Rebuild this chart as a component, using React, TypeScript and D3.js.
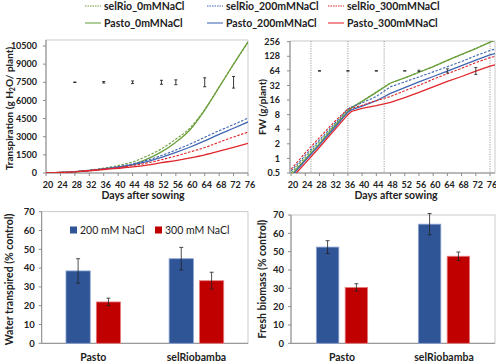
import React from 'react';
import * as d3 from 'd3';

// ---------- data ----------
const legendLabels = ['selRio_0mMNaCl', 'selRio_200mMNaCl', 'selRio_300mMNaCl', 'Pasto_0mMNaCl', 'Pasto_200mMNaCl', 'Pasto_300mMNaCl'];

const trDays = [20, 24, 28, 32, 36, 40, 44, 48, 52, 56, 60, 64, 68, 72, 76];
const trSel0 = [0, 50, 120, 240, 400, 620, 920, 1400, 2000, 2800, 3750, 5250, 7100, 9000, 10800];
const trSel200 = [0, 45, 110, 220, 360, 530, 760, 1050, 1450, 1900, 2400, 2950, 3500, 4000, 4550];
const trSel300 = [0, 45, 105, 200, 320, 450, 610, 820, 1100, 1400, 1750, 2100, 2550, 2980, 3380];
const trPasto0 = [0, 40, 100, 200, 330, 480, 700, 1150, 1750, 2550, 3600, 5200, 7100, 9000, 10850];
const trPasto200 = [0, 45, 110, 210, 340, 490, 690, 950, 1300, 1700, 2150, 2650, 3200, 3700, 4220];
const trPasto300 = [0, 40, 100, 185, 290, 390, 500, 650, 850, 1030, 1250, 1500, 1800, 2120, 2450];
const trTicksY = [0, 1500, 3000, 4500, 6000, 7500, 9000, 10500];
const dayTicks = [20, 24, 28, 32, 36, 40, 44, 48, 52, 56, 60, 64, 68, 72, 76];
const trErrDays = [28, 36, 44, 52, 56, 64, 72];
const trErrMid = 7500;
const trErrHalf = [20, 60, 110, 165, 200, 370, 480];

const fwDays = [20, 24, 28, 32, 36, 37, 40, 44, 48, 52, 56, 60, 64, 68, 72, 76, 77.4];
const fwSel0 = [0.5, 1.05, 2.2, 4.7, 10, 11.3, 15.2, 23.5, 36, 46, 60, 78, 105, 140, 185, 250, 275];
const fwSel200 = [0.55, 1.15, 2.4, 5.0, 10.5, 11.5, 14, 19, 30, 38, 48, 61, 78, 100, 132, 168, 180];
const fwSel300 = [0.6, 1.3, 2.7, 5.5, 10.5, 10.8, 12.5, 15.5, 19, 25, 32, 43, 56, 72, 95, 120, 128];
const fwPasto0 = [0.45, 0.95, 2.0, 4.4, 9.3, 11, 15, 23, 36, 46, 60, 78, 105, 140, 185, 250, 275];
const fwPasto200 = [0.42, 0.9, 1.9, 4.1, 9, 10, 12, 15.5, 22, 29, 38, 49, 63, 82, 107, 137, 146];
const fwPasto300 = [0.38, 0.8, 1.7, 3.7, 8, 9.3, 10.8, 12.3, 14.3, 18, 23, 30, 39, 49, 63, 80, 85];
const fwTicksY = [0.5, 1, 2, 4, 8, 16, 32, 64, 128, 256];
const fwMarkerDays = [25.6, 36, 46.2, 76];
const fwErrDays = [28, 36, 44, 52, 56, 64, 72];
const fwErrLo = [63, 63, 63, 63.3, 62, 58, 54];
const fwErrHi = [65, 65, 65, 64.7, 66, 70.5, 75];

const categories = ['Pasto', 'selRiobamba'];
const treatments = ['200 mM NaCl', '300 mM NaCl'];
const waterMean200 = [38.5, 45];
const waterErr200 = [6.5, 6];
const waterMean300 = [22, 33.3];
const waterErr300 = [2, 4.5];
const bioMean200 = [52.5, 65];
const bioErr200 = [3.5, 5.8];
const bioMean300 = [30.5, 47.5];
const bioErr300 = [2, 2.3];
const barTicksY = [0, 10, 20, 30, 40, 50, 60, 70];

// ---------- styles ----------
const FONT = 'Lato, "Open Sans", sans-serif';
const GREEN = '#6b9f3b';
const BLUE = '#3f66b3';
const RED = '#e0262b';
const BAR_BLUE = '#2f5597';
const BAR_RED = '#c00000';
const AXIS = '#8c8c8c';
const TXT = '#222';

type Series = { vals: number[]; color: string; dashed: boolean };

function LinePanel(props: {
  x: d3.ScaleLinear<number, number>;
  y: any;
  days: number[];
  series: Series[];
  clipId: string;
  smooth: boolean;
  left: number; right: number; top: number; bottom: number;
}) {
  const { x, y, days, series, clipId, smooth, left, right, top, bottom } = props;
  const gen = d3.line<number>().x((_, i) => x(days[i])).y((v) => y(v));
  if (smooth) gen.curve(d3.curveMonotoneX);
  return (
    <g>
      <clipPath id={clipId}>
        <rect x={left} y={top} width={right - left} height={bottom - top} />
      </clipPath>
      <g clipPath={`url(#${clipId})`}>
        {series.map((s, i) => (
          <path key={i} d={gen(s.vals) || ''} fill="none" stroke={s.color}
            strokeWidth={s.dashed ? 1.1 : 1.3}
            strokeDasharray={s.dashed ? '2.5,1.5' : undefined} />
        ))}
      </g>
    </g>
  );
}

export default function App() {
  // ---------- top-left: transpiration ----------
  const tl = { left: 46, right: 248, top: 40, bottom: 173 };
  const xT = d3.scaleLinear().domain([20, 76]).range([tl.left, tl.right]);
  const yT = d3.scaleLinear().domain([0, 10500]).range([tl.bottom, 46]);
  const trSeries: Series[] = [
    { vals: trSel0, color: GREEN, dashed: true },
    { vals: trPasto0, color: GREEN, dashed: false },
    { vals: trSel200, color: BLUE, dashed: true },
    { vals: trPasto200, color: BLUE, dashed: false },
    { vals: trSel300, color: RED, dashed: true },
    { vals: trPasto300, color: RED, dashed: false },
  ];

  // ---------- top-right: FW ----------
  const tr = { left: 290, right: 495, top: 41, bottom: 173 };
  const xF = d3.scaleLinear().domain([19.7, 77.4]).range([tr.left, tr.right]);
  const yF = d3.scaleLog().base(2).domain([0.5, 256]).range([tr.bottom, 41.7]);
  const fwSeries: Series[] = [
    { vals: fwSel0, color: GREEN, dashed: true },
    { vals: fwPasto0, color: GREEN, dashed: false },
    { vals: fwSel200, color: BLUE, dashed: true },
    { vals: fwPasto200, color: BLUE, dashed: false },
    { vals: fwSel300, color: RED, dashed: true },
    { vals: fwPasto300, color: RED, dashed: false },
  ];

  // ---------- bottom bars ----------
  const bl = { left: 41.7, right: 248, top: 211.7, bottom: 343.3 };
  const br = { left: 291, right: 495, top: 215, bottom: 343.3 };
  const yBL = d3.scaleLinear().domain([0, 70]).range([bl.bottom, bl.top]);
  const yBR = d3.scaleLinear().domain([0, 70]).range([br.bottom, br.top]);
  const x0L = d3.scaleBand<string>().domain(categories).range([bl.left, bl.right]);
  const x1L = d3.scaleBand<string>().domain(treatments).range([0, x0L.bandwidth()]).paddingInner(0.2).paddingOuter(0.8);
  const x0R = d3.scaleBand<string>().domain(categories).range([br.left, br.right]);
  const x1R = d3.scaleBand<string>().domain(treatments).range([0, x0R.bandwidth()]).paddingInner(0.22).paddingOuter(0.88);

  const legendCols = [85, 207, 328];
  const legendRows = [6, 23];
  const legendColors = [GREEN, BLUE, RED];

  const bars = (
    x0: d3.ScaleBand<string>, x1: d3.ScaleBand<string>, y: d3.ScaleLinear<number, number>,
    m200: number[], e200: number[], m300: number[], e300: number[]
  ) =>
    categories.map((c, ci) =>
      treatments.map((t, ti) => {
        const v = ti === 0 ? m200[ci] : m300[ci];
        const e = ti === 0 ? e200[ci] : e300[ci];
        const bx = (x0(c) as number) + (x1(t) as number);
        const w = x1.bandwidth();
        const cx = bx + w / 2;
        return (
          <g key={c + t}>
            <rect x={bx} y={y(v)} width={w} height={y(0) - y(v)}
              fill={ti === 0 ? BAR_BLUE : BAR_RED}
              stroke={ti === 0 ? '#8fa6d4' : '#e88080'} strokeWidth={0.8} />
            <line x1={cx} x2={cx} y1={y(v - e)} y2={y(v + e)} stroke="#222" strokeWidth={0.8} />
            <line x1={cx - 2} x2={cx + 2} y1={y(v - e)} y2={y(v - e)} stroke="#222" strokeWidth={0.8} />
            <line x1={cx - 2} x2={cx + 2} y1={y(v + e)} y2={y(v + e)} stroke="#222" strokeWidth={0.8} />
          </g>
        );
      })
    );

  const barAxes = (b: typeof bl, y: d3.ScaleLinear<number, number>, x0: d3.ScaleBand<string>, labelGap: number) => (
    <g>
      <rect x={b.left} y={b.top} width={b.right - b.left} height={b.bottom - b.top} fill="none" stroke="#bdbdbd" strokeWidth={0.8} />
      <line x1={b.left} x2={b.left} y1={b.top} y2={b.bottom} stroke={AXIS} />
      <line x1={b.left} x2={b.right} y1={b.bottom} y2={b.bottom} stroke={AXIS} />
      {barTicksY.map((t) => (
        <g key={t}>
          <line x1={b.left - 3} x2={b.left} y1={y(t)} y2={y(t)} stroke={AXIS} />
          <text x={b.left - labelGap} y={y(t) + 3.3} textAnchor="end" fontSize={9.5} fontWeight="bold" fill={TXT}>{t}</text>
        </g>
      ))}
      {categories.map((c) => (
        <text key={c} x={(x0(c) as number) + x0.bandwidth() / 2} y={360.5} textAnchor="middle" fontSize={10.5} fontWeight="bold" fill={TXT}>{c}</text>
      ))}
    </g>
  );

  return (
    <svg width={496} height={363} style={{ position: 'absolute', left: 0, top: 0, background: '#fff' }} fontFamily={FONT}>
      <rect x={0} y={0} width={496} height={363} fill="#fff" />
      {/* legend */}
      {legendLabels.map((lab, i) => {
        const col = i % 3;
        const row = Math.floor(i / 3);
        const x = legendCols[col];
        const yy = legendRows[row];
        const dashed = row === 0;
        return (
          <g key={lab}>
            <line x1={x} x2={x + 16} y1={yy} y2={yy} stroke={legendColors[col]}
              strokeWidth={dashed ? 1 : 1.5} strokeDasharray={dashed ? '1.5,1' : undefined} opacity={dashed ? 1 : 0.7} />
            <text x={x + 19} y={yy + 3.6} fontSize={10.5} fontWeight="bold" fill={TXT}>{lab}</text>
          </g>
        );
      })}

      {/* ---------- top-left ---------- */}
      <rect x={tl.left} y={tl.top} width={tl.right - tl.left} height={tl.bottom - tl.top} fill="none" stroke="#bdbdbd" strokeWidth={0.8} />
      <line x1={tl.left} x2={tl.left} y1={tl.top} y2={tl.bottom} stroke={AXIS} />
      <line x1={tl.left} x2={tl.right} y1={tl.bottom} y2={tl.bottom} stroke={AXIS} />
      {trTicksY.map((t) => (
        <g key={t}>
          <line x1={tl.left - 3} x2={tl.left} y1={yT(t)} y2={yT(t)} stroke={AXIS} />
          <text x={tl.left - 9} y={yT(t) + 3.2} textAnchor="end" fontSize={9} fontWeight="bold" fill={TXT}>{t}</text>
        </g>
      ))}
      {dayTicks.map((d) => (
        <g key={d}>
          <line x1={xT(d)} x2={xT(d)} y1={tl.bottom} y2={tl.bottom + 3} stroke={AXIS} />
          <text x={xT(d) + 2} y={188} textAnchor="middle" fontSize={9} fontWeight="bold" fill={TXT}>{d}</text>
        </g>
      ))}
      <LinePanel x={xT} y={yT} days={trDays} series={trSeries} clipId="clipTL" smooth={true} {...tl} />
      {trErrDays.map((d, i) => {
        const lo = yT(trErrMid - trErrHalf[i]);
        const hi = yT(trErrMid + trErrHalf[i]);
        const cx = xT(d);
        return (
          <g key={d} stroke="#222" strokeWidth={0.9}>
            <line x1={cx} x2={cx} y1={lo} y2={hi} />
            <line x1={cx - 1.5} x2={cx + 1.5} y1={lo} y2={lo} />
            <line x1={cx - 1.5} x2={cx + 1.5} y1={hi} y2={hi} />
          </g>
        );
      })}
      <text transform={`translate(13,${(tl.top + tl.bottom) / 2 + 2}) rotate(-90)`} textAnchor="middle" fontSize={10} fontWeight="bold" fill={TXT}>
        Transpiration (g H<tspan fontSize={7} dy={2}>2</tspan><tspan dy={-2}>O/ plant)</tspan>
      </text>
      <text x={143} y={199} textAnchor="middle" fontSize={10.5} fontWeight="bold" fill={TXT}>Days after sowing</text>

      {/* ---------- top-right ---------- */}
      <rect x={tr.left} y={tr.top} width={tr.right - tr.left} height={tr.bottom - tr.top} fill="none" stroke="#bdbdbd" strokeWidth={0.8} />
      {fwMarkerDays.map((d) => (
        <line key={d} x1={xF(d)} x2={xF(d)} y1={tr.top} y2={tr.bottom} stroke="#777" strokeWidth={0.7} strokeDasharray="1.2,1.2" />
      ))}
      <line x1={tr.left} x2={tr.left} y1={tr.top} y2={tr.bottom} stroke={AXIS} />
      <line x1={tr.left} x2={tr.right} y1={tr.bottom} y2={tr.bottom} stroke={AXIS} />
      {fwTicksY.map((t) => (
        <g key={t}>
          <line x1={tr.left - 3} x2={tr.left} y1={yF(t)} y2={yF(t)} stroke={AXIS} />
          <text x={tr.left - 10} y={yF(t) + 3.2} textAnchor="end" fontSize={9} fontWeight="bold" fill={TXT}>{t}</text>
        </g>
      ))}
      {dayTicks.map((d) => (
        <g key={d}>
          <line x1={xF(d)} x2={xF(d)} y1={tr.bottom} y2={tr.bottom + 3} stroke={AXIS} />
          <text x={xF(d) + 2} y={188} textAnchor="middle" fontSize={9} fontWeight="bold" fill={TXT}>{d}</text>
        </g>
      ))}
      <LinePanel x={xF} y={yF} days={fwDays} series={fwSeries} clipId="clipTR" smooth={false} {...tr} />
      {fwErrDays.map((d, i) => {
        const lo = yF(fwErrLo[i]);
        const hi = yF(fwErrHi[i]);
        const cx = xF(d);
        return (
          <g key={d} stroke="#333" strokeWidth={0.9}>
            <line x1={cx} x2={cx} y1={lo} y2={hi} />
            <line x1={cx - 1.5} x2={cx + 1.5} y1={lo} y2={lo} />
            <line x1={cx - 1.5} x2={cx + 1.5} y1={hi} y2={hi} />
          </g>
        );
      })}
      <text transform={`translate(266,${(tr.top + tr.bottom) / 2}) rotate(-90)`} textAnchor="middle" fontSize={10} fontWeight="bold" fill={TXT}>FW (g/plant)</text>
      <text x={396} y={199} textAnchor="middle" fontSize={10.5} fontWeight="bold" fill={TXT}>Days after sowing</text>

      {/* ---------- bottom-left ---------- */}
      {barAxes(bl, yBL, x0L, 7)}
      {bars(x0L, x1L, yBL, waterMean200, waterErr200, waterMean300, waterErr300)}
      <rect x={70} y={226.5} width={7} height={7} fill={BAR_BLUE} />
      <text x={80} y={233.5} fontSize={10.5} fill={TXT}>{treatments[0]}</text>
      <rect x={155} y={226.5} width={7} height={7} fill={BAR_RED} />
      <text x={165} y={233.5} fontSize={10.5} fill={TXT}>{treatments[1]}</text>
      <text transform={`translate(13,${(bl.top + bl.bottom) / 2 + 2}) rotate(-90)`} textAnchor="middle" fontSize={10.5} fontWeight="bold" fill={TXT}>Water transpired (% control)</text>

      {/* ---------- bottom-right ---------- */}
      {barAxes(br, yBR, x0R, 7)}
      {bars(x0R, x1R, yBR, bioMean200, bioErr200, bioMean300, bioErr300)}
      <text transform={`translate(266,${(br.top + br.bottom) / 2}) rotate(-90)`} textAnchor="middle" fontSize={10.5} fontWeight="bold" fill={TXT}>Fresh biomass (% control)</text>
    </svg>
  );
}
